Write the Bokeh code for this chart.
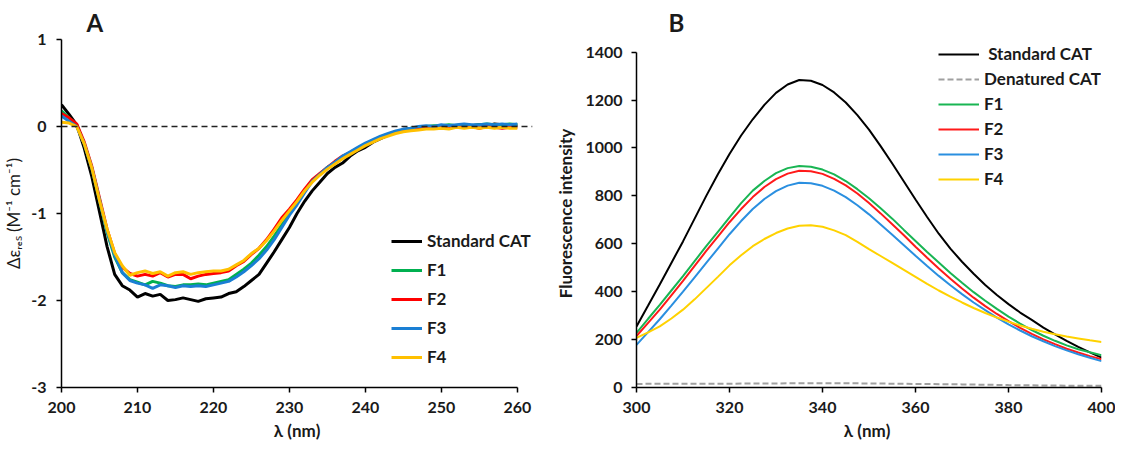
from bokeh.plotting import figure
from bokeh.layouts import row
from bokeh.models import FixedTicker, Span, Legend, LegendItem, Range1d
from bokeh.embed import file_html
from bokeh.resources import INLINE

# ---------------- Panel A: CD spectra ----------------
cd_wavelength = list(range(200, 261))
cd_standard = [0.25, 0.14, 0.02, -0.25, -0.58, -0.98, -1.38, -1.70, -1.83, -1.88,
               -1.96, -1.92, -1.95, -1.93, -2.00, -1.99, -1.97, -1.99, -2.01, -1.98,
               -1.97, -1.96, -1.92, -1.90, -1.84, -1.77, -1.70, -1.57, -1.44, -1.30,
               -1.16, -1.00, -0.86, -0.74, -0.64, -0.54, -0.47, -0.42, -0.34, -0.28,
               -0.24, -0.18, -0.14, -0.10, -0.07, -0.05, -0.03, -0.02, 0.00, -0.01,
               0.01, 0.00, 0.01, 0.02, 0.01, 0.02, 0.01, 0.03, 0.02, 0.01, 0.02]
cd_f1 = [0.18, 0.10, 0.02, -0.20, -0.48, -0.85, -1.22, -1.50, -1.68, -1.76,
         -1.79, -1.82, -1.78, -1.80, -1.83, -1.84, -1.82, -1.82, -1.81, -1.82,
         -1.80, -1.78, -1.76, -1.70, -1.64, -1.57, -1.48, -1.38, -1.26, -1.13,
         -1.00, -0.88, -0.74, -0.62, -0.55, -0.47, -0.42, -0.35, -0.30, -0.25,
         -0.20, -0.16, -0.12, -0.09, -0.06, -0.04, -0.02, -0.01, 0.00, 0.01,
         0.01, 0.02, 0.01, 0.02, 0.01, 0.02, 0.03, 0.02, 0.02, 0.03, 0.02]
cd_f2 = [0.15, 0.10, 0.03, -0.18, -0.46, -0.82, -1.18, -1.46, -1.62, -1.69,
         -1.72, -1.70, -1.72, -1.68, -1.73, -1.70, -1.70, -1.75, -1.72, -1.70,
         -1.69, -1.68, -1.66, -1.60, -1.55, -1.47, -1.40, -1.30, -1.18, -1.05,
         -0.95, -0.84, -0.72, -0.61, -0.54, -0.47, -0.40, -0.34, -0.30, -0.25,
         -0.21, -0.17, -0.13, -0.10, -0.07, -0.05, -0.04, -0.03, -0.02, -0.02,
         -0.01, -0.02, 0.00, -0.01, 0.00, -0.02, 0.00, -0.01, -0.02, -0.01, -0.01]
cd_f3 = [0.12, 0.06, 0.00, -0.20, -0.48, -0.84, -1.20, -1.48, -1.68, -1.77,
         -1.80, -1.82, -1.86, -1.82, -1.83, -1.85, -1.83, -1.84, -1.83, -1.84,
         -1.82, -1.80, -1.78, -1.73, -1.67, -1.60, -1.52, -1.42, -1.30, -1.16,
         -1.02, -0.90, -0.76, -0.63, -0.55, -0.47, -0.41, -0.34, -0.29, -0.24,
         -0.19, -0.15, -0.11, -0.08, -0.05, -0.03, -0.02, 0.00, 0.01, 0.00,
         0.02, 0.01, 0.02, 0.03, 0.02, 0.02, 0.03, 0.02, 0.03, 0.02, 0.03]
cd_f4 = [0.05, 0.04, 0.00, -0.20, -0.48, -0.85, -1.18, -1.45, -1.60, -1.71,
         -1.68, -1.66, -1.69, -1.67, -1.72, -1.68, -1.67, -1.70, -1.68, -1.67,
         -1.66, -1.66, -1.64, -1.59, -1.54, -1.46, -1.40, -1.31, -1.20, -1.08,
         -0.97, -0.86, -0.74, -0.64, -0.56, -0.49, -0.43, -0.37, -0.32, -0.27,
         -0.22, -0.18, -0.14, -0.11, -0.08, -0.06, -0.05, -0.04, -0.03, -0.03,
         -0.02, -0.03, -0.01, -0.02, -0.01, -0.02, -0.01, -0.02, -0.01, -0.02, -0.02]
cd_x_ticks = [200, 210, 220, 230, 240, 250, 260]
cd_y_ticks = [-3, -2, -1, 0, 1]
cd_y_labels = {-3: "-3", -2: "-2", -1: "-1", 0: "0", 1: "1"}

# ---------------- Panel B: fluorescence spectra ----------------
fl_wavelength = [300, 302.5, 305, 307.5, 310, 312.5, 315, 317.5, 320, 322.5, 325,
                 327.5, 330, 332.5, 335, 337.5, 340, 342.5, 345, 347.5, 350,
                 352.5, 355, 357.5, 360, 362.5, 365, 367.5, 370, 372.5, 375,
                 377.5, 380, 382.5, 385, 387.5, 390, 392.5, 395, 397.5, 400]
fl_standard = [255, 342, 430, 520, 610, 705, 800, 890, 975, 1052, 1120,
               1180, 1230, 1265, 1284, 1281, 1263, 1232, 1190, 1137, 1077,
               1008, 935, 860, 785, 712, 642, 580, 525, 475, 428,
               386, 348, 313, 282, 250, 222, 195, 170, 147, 125]
fl_f1 = [228, 287, 345, 405, 465, 528, 590, 650, 710, 770, 822,
         862, 895, 916, 925, 922, 910, 890, 862, 828, 790,
         748, 705, 658, 612, 566, 522, 478, 437, 398, 362,
         328, 296, 267, 240, 216, 195, 176, 160, 147, 135]
fl_f2 = [215, 270, 325, 385, 445, 508, 570, 630, 690, 745, 795,
         837, 870, 893, 905, 903, 892, 871, 844, 810, 770,
         727, 682, 636, 588, 542, 497, 454, 413, 375, 340,
         307, 277, 249, 224, 201, 181, 162, 146, 131, 118]
fl_f3 = [178, 231, 285, 342, 400, 460, 520, 580, 640, 695, 745,
         787, 820, 843, 855, 853, 842, 822, 795, 761, 723,
         681, 638, 594, 550, 507, 466, 427, 390, 355, 323,
         292, 264, 238, 214, 193, 173, 155, 139, 124, 110]
fl_f4 = [207, 230, 255, 288, 325, 368, 415, 462, 510, 552, 590,
         620, 645, 664, 675, 677, 671, 656, 636, 608, 578,
         549, 520, 491, 462, 433, 405, 379, 355, 332, 311,
         292, 275, 259, 245, 233, 222, 213, 205, 197, 190]
fl_denatured_wavelength = [300, 310, 320, 330, 340, 350, 360, 370, 380, 390, 400]
fl_denatured = [15, 16, 16, 17, 18, 17, 15, 13, 10, 8, 7]
fl_x_ticks = [300, 320, 340, 360, 380, 400]
fl_y_ticks = [0, 200, 400, 600, 800, 1000, 1200, 1400]

FONT = "Lato"
TXT = "#1a1a1a"
H = 445
TOP = 39
BOTTOM = 58
WA = 552
WB = 563


def style(p, xticks, yticks):
    p.outline_line_color = None
    p.xgrid.visible = False
    p.ygrid.visible = False
    p.background_fill_color = "white"
    p.border_fill_color = "white"
    p.xaxis.ticker = FixedTicker(ticks=xticks)
    p.yaxis.ticker = FixedTicker(ticks=yticks)
    for ax in (p.xaxis, p.yaxis):
        ax.axis_line_color = "black"
        ax.axis_line_width = 1.5
        ax.major_tick_line_color = "black"
        ax.major_tick_line_width = 1.5
        ax.major_tick_out = 5
        ax.major_tick_in = 0
        ax.minor_tick_out = 0
        ax.minor_tick_in = 0
        ax.major_label_text_font = FONT
        ax.major_label_text_font_size = "16px"
        ax.major_label_text_font_style = "bold"
        ax.major_label_text_color = TXT
        ax.axis_label_text_font = FONT
        ax.axis_label_text_font_size = "17px"
        ax.axis_label_text_font_style = "bold"
        ax.axis_label_text_color = TXT
    p.xaxis.major_label_standoff = 9
    p.xaxis.axis_label_standoff = 4
    p.title.text_font = FONT
    p.title.text_font_size = "24px"
    p.title.text_font_style = "bold"
    p.title.text_color = TXT
    p.title.align = "left"
    p.title.standoff = 6


# ---------- Figure A ----------
pa = figure(width=WA, height=H, output_backend="svg", toolbar_location=None,
            x_range=Range1d(200, 262), y_range=Range1d(-3, 1), title="A",
            min_border_left=59, min_border_right=20, min_border_top=TOP, min_border_bottom=BOTTOM)
style(pa, cd_x_ticks, cd_y_ticks)
pa.title.offset = 25
pa.xaxis.bounds = (200, 260)
pa.xaxis.axis_label = "λ (nm)"
pa.yaxis.major_label_overrides = cd_y_labels
pa.yaxis.axis_label = "Δεᵣₑₛ (M⁻¹ cm⁻¹)"
pa.yaxis.axis_label_text_font_style = "normal"
pa.yaxis.major_label_standoff = 10
pa.yaxis.axis_label_standoff = 4

pa.add_layout(Span(location=0, dimension="width", line_color="#222222",
                   line_width=1.5, line_dash="6 4"))

ra0 = pa.line(cd_wavelength, cd_standard, line_color="#000000", line_width=3)
ra1 = pa.line(cd_wavelength, cd_f1, line_color="#00B050", line_width=3)
ra2 = pa.line(cd_wavelength, cd_f2, line_color="#FF0000", line_width=3)
ra3 = pa.line(cd_wavelength, cd_f3, line_color="#1A7FD4", line_width=3)
ra4 = pa.line(cd_wavelength, cd_f4, line_color="#FFC000", line_width=3)

leg_a = Legend(items=[LegendItem(label="Standard CAT", renderers=[ra0]),
                      LegendItem(label="F1", renderers=[ra1]),
                      LegendItem(label="F2", renderers=[ra2]),
                      LegendItem(label="F3", renderers=[ra3]),
                      LegendItem(label="F4", renderers=[ra4])],
               location=(330, 20), padding=0, margin=0, spacing=8,
               glyph_width=31, glyph_height=20, label_height=20, label_standoff=5,
               border_line_color=None, background_fill_alpha=0,
               label_text_font=FONT, label_text_font_size="17px",
               label_text_font_style="bold", label_text_color=TXT)
pa.add_layout(leg_a)

# ---------- Figure B ----------
pb = figure(width=WB, height=H, output_backend="svg", toolbar_location=None,
            x_range=Range1d(300, 400), y_range=Range1d(0, 1453), title="B",
            min_border_left=78, min_border_right=14, min_border_top=TOP, min_border_bottom=BOTTOM)
style(pb, fl_x_ticks, fl_y_ticks)
pb.title.offset = 32
pb.yaxis.bounds = (0, 1400)
pb.xaxis.axis_label = "λ  (nm)"
pb.yaxis.axis_label = "Fluorescence intensity"
pb.yaxis.major_label_standoff = 9
pb.yaxis.axis_label_standoff = 6

rb0 = pb.line(fl_wavelength, fl_standard, line_color="#000000", line_width=2)
rb1 = pb.line(fl_denatured_wavelength, fl_denatured, line_color="#A0A0A0",
              line_width=2, line_dash="6 3")
rb2 = pb.line(fl_wavelength, fl_f1, line_color="#19B553", line_width=2)
rb3 = pb.line(fl_wavelength, fl_f2, line_color="#FF1A1A", line_width=2)
rb4 = pb.line(fl_wavelength, fl_f3, line_color="#2A8FE0", line_width=2)
rb5 = pb.line(fl_wavelength, fl_f4, line_color="#FFD200", line_width=2)

leg_b = Legend(items=[LegendItem(label=" Standard CAT", renderers=[rb0]),
                      LegendItem(label="Denatured CAT", renderers=[rb1]),
                      LegendItem(label="F1", renderers=[rb2]),
                      LegendItem(label="F2", renderers=[rb3]),
                      LegendItem(label="F3", renderers=[rb4]),
                      LegendItem(label="F4", renderers=[rb5])],
               location=(302, 198), padding=0, margin=0, spacing=4,
               glyph_width=41, glyph_height=20, label_height=20, label_standoff=5,
               border_line_color=None, background_fill_alpha=0,
               label_text_font=FONT, label_text_font_size="17px",
               label_text_font_style="bold", label_text_color=TXT)
pb.add_layout(leg_b)

layout = row(pa, pb, width=WA + WB, height=H)
open("out.html", "w").write(file_html(layout, INLINE))
